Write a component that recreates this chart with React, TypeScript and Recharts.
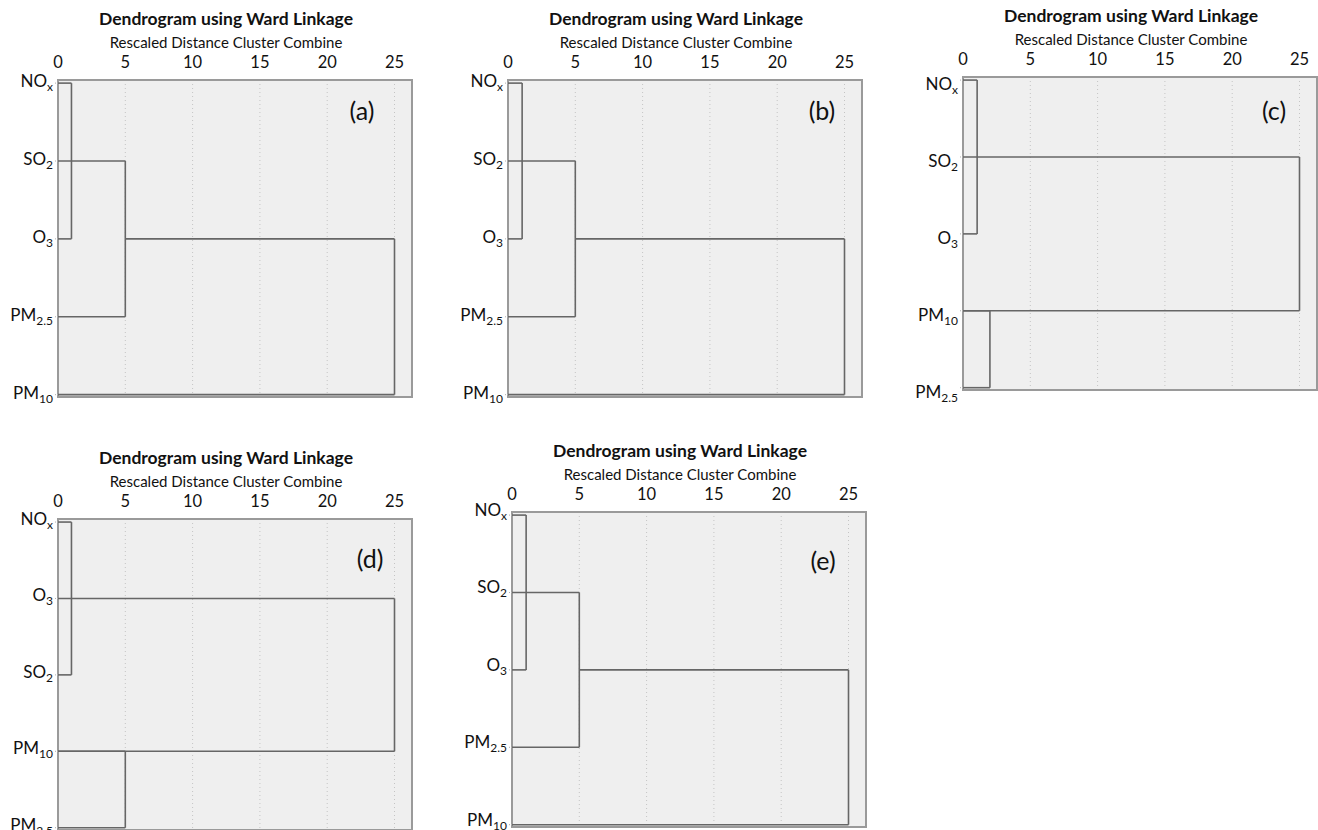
import React from "react";
import { ComposedChart, XAxis, YAxis, CartesianGrid, ReferenceLine, ReferenceArea } from "recharts";

// Distance axis (rescaled 0..25) and leaf labels ("_" marks the subscript).
const distanceTicks = [0, 5, 10, 15, 20, 25];
const rowTicks = [0, 1, 2, 3, 4];

const leavesA = ["NO_x", "SO_2", "O_3", "PM_2.5", "PM_10"];
const leavesB = ["NO_x", "SO_2", "O_3", "PM_2.5", "PM_10"];
const leavesC = ["NO_x", "SO_2", "O_3", "PM_10", "PM_2.5"];
const leavesD = ["NO_x", "O_3", "SO_2", "PM_10", "PM_2.5"];
const leavesE = ["NO_x", "SO_2", "O_3", "PM_2.5", "PM_10"];

// Each merge joins two rows at a rescaled distance; starts = where each arm begins.
const pairsA = [[0, 2], [1, 3], [2, 4]];
const heightsA = [1.0, 5.0, 25.0];
const startsA = [[0, 0], [0, 0], [5, 0]];

const pairsB = [[0, 2], [1, 3], [2, 4]];
const heightsB = [1.05, 5.0, 25.0];
const startsB = [[0, 0], [0, 0], [5, 0]];

const pairsC = [[0, 2], [1, 3], [3, 4]];
const heightsC = [1.05, 25.0, 2.0];
const startsC = [[0, 0], [0, 0], [0, 0]];

const pairsD = [[0, 2], [1, 3], [3, 4]];
const heightsD = [1.0, 25.0, 5.0];
const startsD = [[0, 0], [0, 0], [0, 0]];

const pairsE = [[0, 2], [1, 3], [2, 4]];
const heightsE = [1.05, 5.0, 25.0];
const startsE = [[0, 0], [0, 0], [5, 0]];

const panelTags = ["(a)", "(b)", "(c)", "(d)", "(e)"];
const titleText = "Dendrogram using Ward Linkage";
const subtitleText = "Rescaled Distance Cluster Combine";

const FONT = "Lato, 'Open Sans', sans-serif";
const X_MAX = 26.3;
const Y_DOMAIN = [-0.04, 4.03];

const panels = [
  { leaves: leavesA, pairs: pairsA, heights: heightsA, starts: startsA, left: 58, top: 80, h: 317, tag: [304, 30], labelDy: -3 },
  { leaves: leavesB, pairs: pairsB, heights: heightsB, starts: startsB, left: 508, top: 80, h: 317, tag: [314, 30], labelDy: -3 },
  { leaves: leavesC, pairs: pairsC, heights: heightsC, starts: startsC, left: 963, top: 77, h: 313, tag: [311, 33], labelDy: 3 },
  { leaves: leavesD, pairs: pairsD, heights: heightsD, starts: startsD, left: 58, top: 519, h: 311, tag: [312, 39], labelDy: -4 },
  { leaves: leavesE, pairs: pairsE, heights: heightsE, starts: startsE, left: 512, top: 512, h: 315, tag: [311, 48], labelDy: -6 },
];

function segmentsOf(pairs: number[][], heights: number[], starts: number[][]) {
  const segs: { x: number; y: number }[][] = [];
  pairs.forEach(([r1, r2], i) => {
    const h = heights[i];
    const [s1, s2] = starts[i];
    segs.push([{ x: s1, y: r1 }, { x: h, y: r1 }]);
    segs.push([{ x: s2, y: r2 }, { x: h, y: r2 }]);
    segs.push([{ x: h, y: r1 }, { x: h, y: r2 }]);
  });
  return segs;
}

function LeafTick(props: any) {
  const { x, y, payload, leaves, dy } = props;
  const [main, sub] = String(leaves[payload.value] ?? "").split("_");
  return (
    <text x={x} y={y + dy} textAnchor="end" dominantBaseline="central" fontFamily={FONT} fontSize={17} fill="#111">
      <tspan>{main}</tspan>
      {sub && (
        <tspan fontSize={12} dy={6}>
          {sub}
        </tspan>
      )}
    </text>
  );
}

const W = 422;
const axisData = distanceTicks.map((d, i) => ({ d, r: rowTicks[Math.min(i, 4)] }));

function Panel({ p, tag }: { p: (typeof panels)[number]; tag: string }) {
  const segs = segmentsOf(p.pairs, p.heights, p.starts);
  const height = 80 + p.h + 16;
  return (
    <div style={{ position: "absolute", left: p.left - 58, top: p.top - 80, width: W, height }}>
      <div style={{ position: "absolute", left: 58, width: 336, top: 8, textAlign: "center", fontFamily: FONT, fontWeight: 700, fontSize: 17.5, lineHeight: "22px", color: "#111", whiteSpace: "nowrap" }}>
        {titleText}
      </div>
      <div style={{ position: "absolute", left: 58, width: 336, top: 33, textAlign: "center", fontFamily: FONT, fontSize: 15, lineHeight: "18px", color: "#111", whiteSpace: "nowrap" }}>
        {subtitleText}
      </div>
      <ComposedChart
        width={W}
        height={height}
        data={axisData}
        margin={{ top: 50, right: 10, bottom: 16, left: 0 }}
        style={{ position: "absolute", left: 0, top: 0 }}
      >
        <CartesianGrid horizontal={false} fill="#efefef" fillOpacity={1} stroke="#c4c4c4" strokeDasharray="1 3" />
        <XAxis
          dataKey="d"
          type="number"
          orientation="top"
          domain={[0, X_MAX]}
          ticks={distanceTicks}
          allowDataOverflow
          height={30}
          tickLine={false}
          axisLine={false}
          tickMargin={6}
          tick={{ fill: "#111", fontSize: 16.5, fontFamily: FONT }}
        />
        <YAxis
          dataKey="r"
          type="number"
          domain={Y_DOMAIN}
          reversed
          ticks={rowTicks}
          allowDataOverflow
          width={58}
          axisLine={false}
          tickLine={{ stroke: "#b0b0b0", strokeDasharray: "1 1" }}
          tickSize={3}
          tickMargin={2}
          tick={<LeafTick leaves={p.leaves} dy={p.labelDy} />}
        />
        <ReferenceArea x1={0} x2={X_MAX} y1={Y_DOMAIN[0]} y2={Y_DOMAIN[1]} fill="none" stroke="#9a9a9a" strokeWidth={2} ifOverflow="visible" />
        {segs.map((s, i) => (
          <ReferenceLine key={i} segment={s} stroke="#666666" strokeWidth={1.6} ifOverflow="visible" />
        ))}
      </ComposedChart>
      <div style={{ position: "absolute", left: 58 + p.tag[0] - 25, width: 50, top: 80 + p.tag[1] - 15, textAlign: "center", fontFamily: FONT, fontSize: 25, lineHeight: "30px", color: "#111" }}>
        {tag}
      </div>
    </div>
  );
}

export default function App() {
  return (
    <div style={{ position: "absolute", left: 0, top: 0, width: 1318, height: 830, background: "#fff", overflow: "hidden" }}>
      {panels.map((p, i) => (
        <Panel key={i} p={p} tag={panelTags[i]} />
      ))}
    </div>
  );
}
